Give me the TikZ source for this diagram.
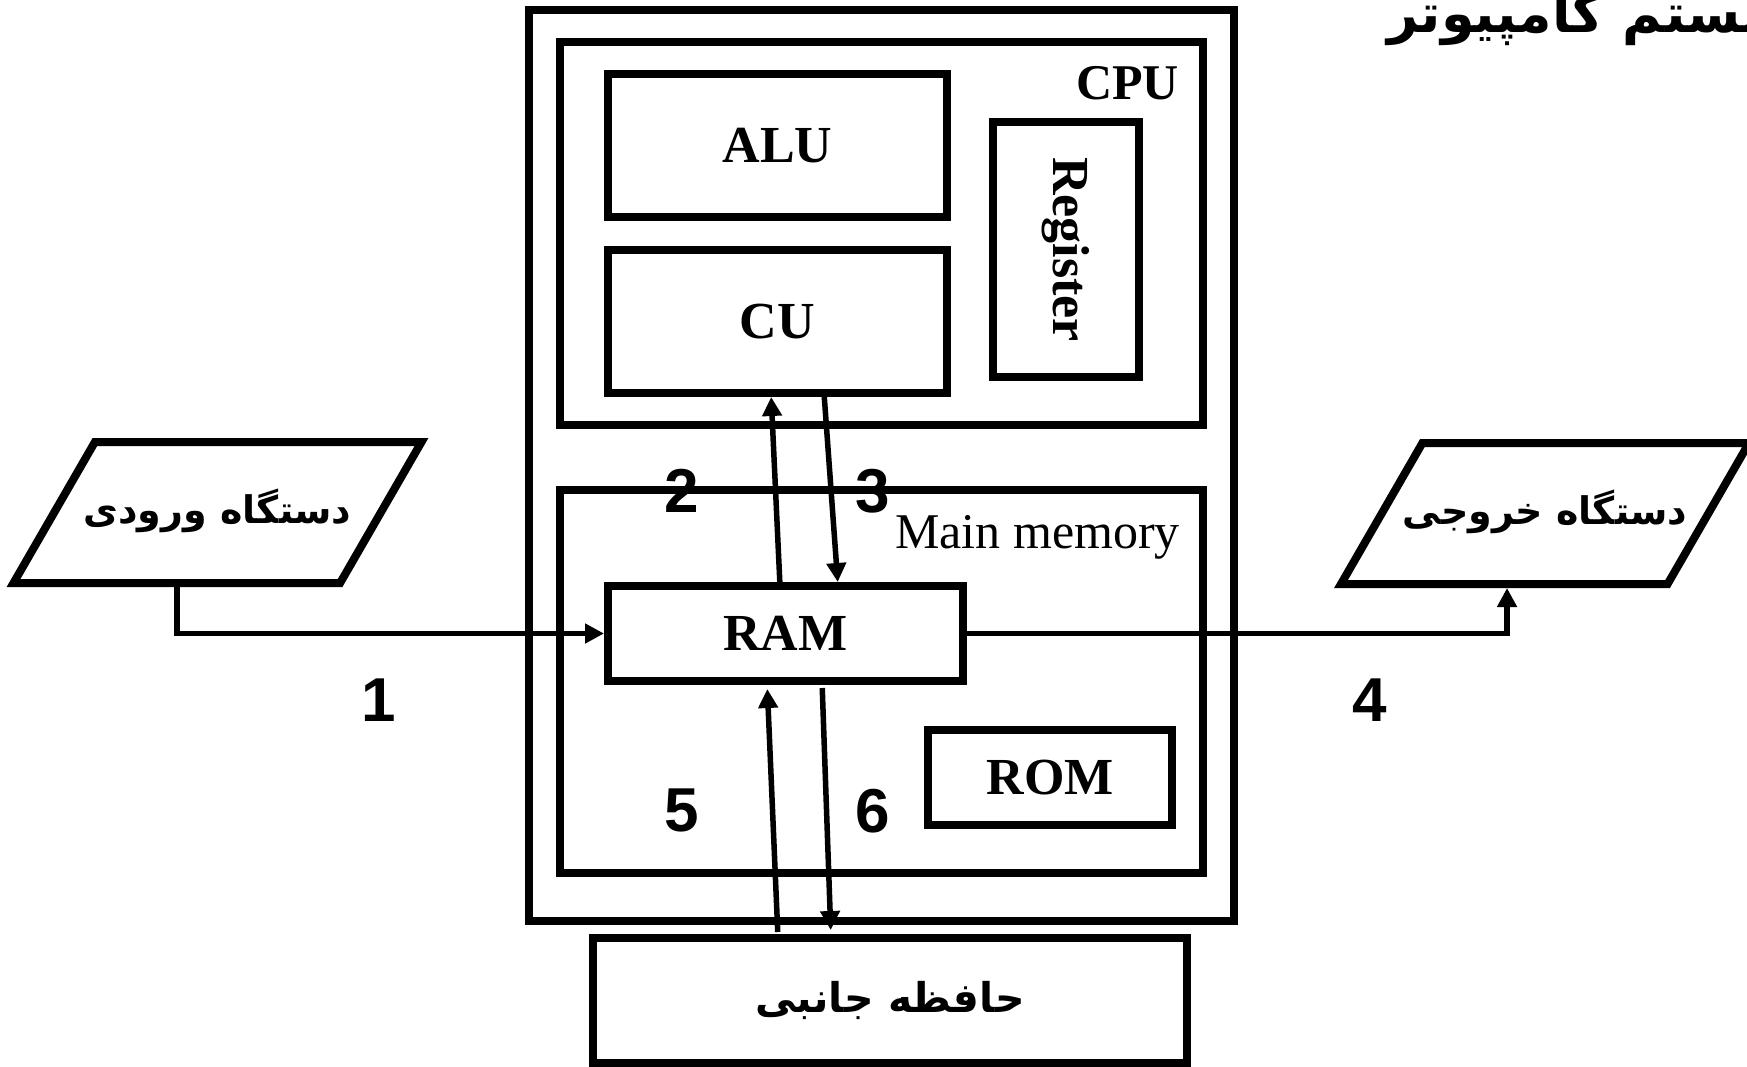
\documentclass[tikz,border=0pt]{standalone}
\usepackage{fontspec}
\usepackage{tikz}
\usetikzlibrary{shapes.geometric,arrows.meta,positioning}
\setmainfont{Liberation Serif}
\newfontfamily\digitfont{Liberation Sans}
\newfontfamily\fafont[Script=Arabic]{DejaVu Sans}
\TeXXeTstate=1
\newcommand{\devtext}[1]{\makebox[244pt][c]{\beginR #1\endR}}

\begin{document}
\begin{tikzpicture}[
    x=1pt, y=-1pt,
    box/.style={rectangle, draw=black, line width=8pt, outer sep=0pt,
        inner sep=0pt, align=center,
        font=\bfseries\fontsize{52}{52}\selectfont},
    frame/.style={rectangle, draw=black, line width=8pt, outer sep=0pt,
        inner sep=0pt},
    device/.style={trapezium, trapezium left angle=60, trapezium right angle=120,
        trapezium stretches body=true, draw=black, line width=8pt, outer sep=0pt,
        inner sep=0pt, text height=81.5pt, text depth=59.5pt, minimum width=408pt,
        font=\fafont\bfseries\fontsize{38}{38}\selectfont},
    lbl/.style={inner sep=0pt, font=\fontsize{50}{50}\selectfont},
    num/.style={inner sep=0pt, font=\digitfont\bfseries\fontsize{62}{62}\selectfont},
    arrow/.style={-{Triangle[length=19pt,width=19pt]}, line width=5.5pt, draw=black}
]
\useasboundingbox (0,0) rectangle (1747,1067);

% Title (clipped at the right edge)
\node[anchor=base west, inner sep=0pt,
    font=\fafont\bfseries\fontsize{54}{54}\selectfont] (title) at (1387,33)
    {\beginR سیستم کامپیوتر\endR};

% System unit and CPU
\node[frame, minimum width=705pt, minimum height=911pt] (system) at (881.5,465.5) {};
\node[frame, minimum width=643pt, minimum height=383pt] (cpu) at (881.5,233.5) {};
\node[lbl, font=\bfseries\fontsize{50}{50}\selectfont, anchor=base east] (cpulbl) at (1179,100) {CPU};
\node[box, minimum width=339pt, minimum height=143pt] (alu) at (777.5,145.5) {ALU};
\node[box, minimum width=339pt, minimum height=143pt, below=33pt of alu] (cu) {CU};
\node[box, rotate=-90, minimum width=255pt, minimum height=146pt] (reg) at (1066,249.5) {Register};

% Main memory
\node[frame, minimum width=643pt, minimum height=383pt] (mainmem) at (881.5,681.5) {};
\node[lbl, anchor=base east] (memlbl) at (1180,548) {Main memory};
\node[box, minimum width=355pt, minimum height=95pt] (ram) at (785.5,633.5) {RAM};
\node[box, minimum width=244pt, minimum height=95pt] (rom) at (1050,777.5) {ROM};

% Devices
\node[device] (inp) at (217.5,512.5) {\devtext{دستگاه ورودی}};
\node[device] (outp) at (1545,513.5) {\devtext{دستگاه خروجی}};
\node[frame, minimum width=594pt, minimum height=125pt,
    font=\fafont\bfseries\fontsize{41}{41}\selectfont] (aux) at (890,1000.5)
    {\beginR حافظه جانبی\endR};

% Connectors
\draw[arrow, shorten >=4pt] ([xshift=-40.5pt]inp.south) |- (ram.west);
\draw[arrow, shorten >=4pt] (ram.east) -| ([xshift=-38pt]outp.south);
\draw[arrow, shorten >=4pt] ([xshift=-5.5pt]ram.north) -- ([xshift=-6.5pt]cu.south);
\draw[arrow, shorten >=4pt] ([xshift=46.5pt]cu.south) -- ([xshift=52.5pt]ram.north);
\draw[arrow, shorten <=6pt, shorten >=8pt] ([xshift=-112pt]aux.north) -- ([xshift=-18.5pt]ram.south);
\draw[arrow, shorten <=7pt, shorten >=8pt] ([xshift=36.5pt]ram.south) -- ([xshift=-59pt]aux.north);

% Step numbers
\node[num] (n1) at (379,700) {1};
\node[num] (n2) at (682,491) {2};
\node[num] (n3) at (873,491) {3};
\node[num] (n4) at (1370,700) {4};
\node[num] (n5) at (682,810) {5};
\node[num] (n6) at (873,811) {6};

\end{tikzpicture}
\end{document}
